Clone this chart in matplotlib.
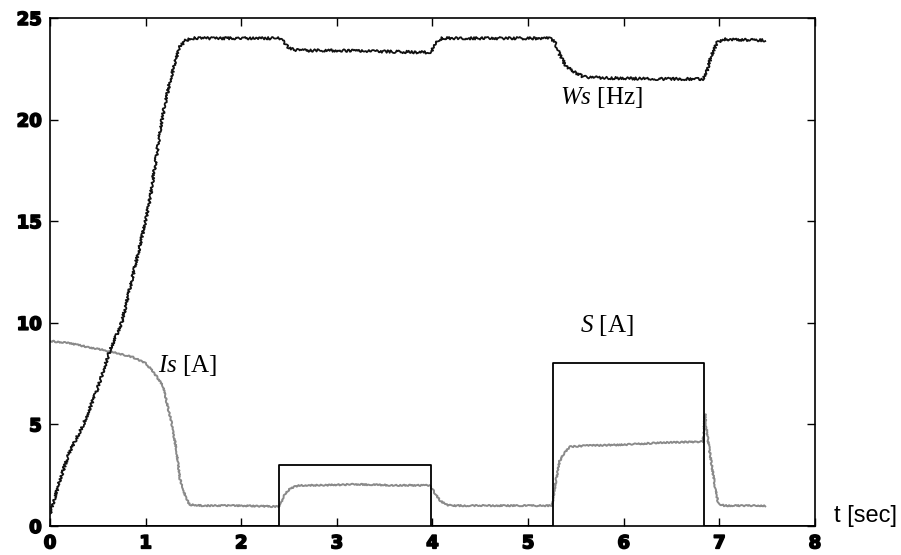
import matplotlib
matplotlib.use('Agg')
import matplotlib.pyplot as plt
import matplotlib.ticker as ticker
import matplotlib.patheffects as pe

# Stator frequency Ws [Hz]
ws_t = [0.0, 0.1, 0.2, 0.35, 0.5, 0.63, 0.75, 0.9, 1.0, 1.05, 1.1, 1.17, 1.25,
        1.32, 1.36, 1.42, 1.5, 1.8, 2.4, 2.45, 2.5, 2.6, 3.0, 3.5, 3.98,
        4.02, 4.06, 4.1, 4.6, 5.23, 5.28, 5.33, 5.4, 5.5, 5.58, 5.8, 6.3,
        6.83, 6.87, 6.92, 6.98, 7.05, 7.48]
ws_v = [0.6, 2.2, 3.6, 5.0, 6.8, 8.7, 10.0, 13.0, 15.0, 16.2, 17.8, 20.0, 21.8,
        23.0, 23.6, 23.9, 24.0, 24.0, 24.0, 23.8, 23.5, 23.4, 23.4, 23.35, 23.3,
        23.6, 23.9, 24.0, 24.0, 24.0, 23.8, 23.2, 22.6, 22.3, 22.1, 22.05, 22.0,
        22.0, 22.4, 23.2, 23.8, 23.95, 23.9]

# Stator current Is [A]
is_t = [0.0, 0.2, 0.4, 0.63, 0.87, 1.0, 1.08, 1.18, 1.27, 1.32, 1.36, 1.42,
        1.46, 1.6, 2.0, 2.39, 2.42, 2.45, 2.51, 2.6, 2.8, 3.2, 3.6, 3.97,
        4.0, 4.04, 4.08, 4.14, 4.2, 4.6, 5.0, 5.25, 5.29, 5.33, 5.38, 5.44,
        5.6, 6.0, 6.4, 6.83, 6.85, 6.87, 6.92, 6.96, 6.99, 7.05, 7.48]
is_v = [9.1, 9.0, 8.8, 8.6, 8.3, 8.0, 7.6, 6.9, 5.1, 3.8, 2.3, 1.4,
        1.05, 1.0, 1.0, 0.95, 1.2, 1.5, 1.85, 2.0, 2.0, 2.05, 2.0, 2.0,
        1.8, 1.5, 1.25, 1.05, 1.0, 1.0, 1.0, 1.0, 2.2, 3.2, 3.6, 3.9,
        3.95, 4.0, 4.1, 4.15, 5.5, 4.6, 3.0, 1.8, 1.1, 1.0, 1.0]

# Load step S [A]
s_t = [0.0, 2.4, 2.4, 3.98, 3.98, 5.26, 5.26, 6.84, 6.84, 8.0]
s_v = [0.0, 0.0, 3.0, 3.0, 0.0, 0.0, 8.0, 8.0, 0.0, 0.0]

plt.rcParams['mathtext.fontset'] = 'custom'
plt.rcParams['mathtext.it'] = 'Liberation Serif:italic'
plt.rcParams['mathtext.rm'] = 'Liberation Serif'

fig = plt.figure(figsize=(9.01, 5.55), dpi=100)
ax = fig.add_axes([0.0555, 0.0523, 0.849, 0.9153])

s_line, = ax.plot(s_t, s_v, color='black', linewidth=1.3, zorder=3)
is_line, = ax.plot(is_t, is_v, color='#8a8a8a', linewidth=1.4, zorder=2)
is_line.set_sketch_params(scale=0.7, length=4, randomness=3)
ws_line, = ax.plot(ws_t, ws_v, color='#111111', linewidth=1.3, zorder=4)
ws_line.set_sketch_params(scale=1.3, length=3, randomness=3)

ax.set_xlim(0, 8)
ax.set_ylim(0, 25)
ax.xaxis.set_major_locator(ticker.MultipleLocator(1))
ax.yaxis.set_major_locator(ticker.MultipleLocator(5))
ax.tick_params(direction='in', length=6, width=1.0, top=True, right=True,
               labelsize=13, pad=6)
heavy = [pe.withStroke(linewidth=1.2, foreground='black')]
for lab in ax.get_xticklabels() + ax.get_yticklabels():
    lab.set_fontweight('heavy')
    lab.set_family('DejaVu Sans')
    lab.set_path_effects(heavy)
for sp in ax.spines.values():
    sp.set_linewidth(1.2)

ax.text(5.33, 21.1, r'$\mathit{Ws}$ [Hz]', fontsize=18, family='Liberation Serif',
        va='center', ha='left')
ax.text(1.13, 7.9, r'$\mathit{Is}$ [A]', fontsize=18, family='Liberation Serif',
        va='center', ha='left')
ax.text(5.54, 9.85, r'$\mathit{S}$ [A]', fontsize=18, family='Liberation Serif',
        va='center', ha='left')
ax.text(1.025, 0.02, 't [sec]', transform=ax.transAxes, fontsize=17,
        family='Liberation Sans', ha='left', va='center')

fig.savefig('out.png', dpi=100)
